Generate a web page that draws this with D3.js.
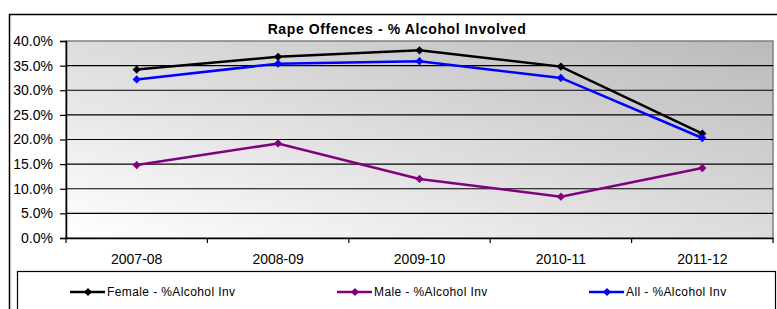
<!DOCTYPE html>
<html>
<head>
<meta charset="utf-8">
<script src="https://cdn.jsdelivr.net/npm/d3@7"></script>
<style>
  body { margin: 0; background: #fff; }
  svg { display: block; font-family: Arial, "Liberation Sans", sans-serif; }
</style>
</head>
<body>
<svg width="777" height="309"></svg>
<script>
// Datos
const years = ["2007-08", "2008-09", "2009-10", "2010-11", "2011-12"];
const female = [0.342, 0.368, 0.381, 0.348, 0.212];
const male = [0.148, 0.192, 0.120, 0.084, 0.142];
const all = [0.322, 0.354, 0.359, 0.325, 0.203];
const yTicks = [0, 0.05, 0.10, 0.15, 0.20, 0.25, 0.30, 0.35, 0.40];

const series = [
  { name: "Female - %Alcohol Inv", values: female, color: "#000000", lx: 70 },
  { name: "Male - %Alcohol Inv", values: male, color: "#800080", lx: 337 },
  { name: "All - %Alcohol Inv", values: all, color: "#0000ff", lx: 589 }
];

const svg = d3.select("svg");
const plot = { left: 66, top: 41, right: 773, bottom: 238 };

// Borde exterior del gráfico
svg.append("path")
  .attr("d", "M9.5,309 V14.5 H777")
  .attr("fill", "none").attr("stroke", "#000").attr("stroke-width", 1.5);

// Degradado del fondo
const grad = svg.append("defs").append("linearGradient")
  .attr("id", "bg").attr("x1", "0%").attr("y1", "100%").attr("x2", "100%").attr("y2", "0%");
grad.append("stop").attr("offset", "0%").attr("stop-color", "#ffffff");
grad.append("stop").attr("offset", "100%").attr("stop-color", "#bababa");

const x = d3.scaleBand().domain(years).range([plot.left, plot.right]);
const y = d3.scaleLinear().domain([0, 0.4]).range([plot.bottom, plot.top]);

svg.append("rect")
  .attr("x", plot.left).attr("y", plot.top)
  .attr("width", plot.right - plot.left).attr("height", plot.bottom - plot.top)
  .attr("fill", "url(#bg)").attr("stroke", "#808080").attr("stroke-width", 1.5);

// Líneas de cuadrícula
svg.append("g").selectAll("line").data(yTicks.slice(1, -1)).enter().append("line")
  .attr("x1", plot.left).attr("x2", plot.right)
  .attr("y1", d => y(d)).attr("y2", d => y(d))
  .attr("stroke", "#000").attr("stroke-width", 1.2);

// Eje Y
const yAxis = svg.append("g").attr("transform", `translate(${plot.left},0)`)
  .call(d3.axisLeft(y).tickValues(yTicks).tickFormat(d3.format(".1%")).tickSize(6).tickPadding(7));
yAxis.select(".domain").attr("stroke-width", 1.5);
yAxis.selectAll(".tick line").attr("stroke-width", 1.2);
yAxis.selectAll("text").attr("font-size", 14).attr("fill", "#000")
  .attr("font-family", "Arial, 'Liberation Sans', sans-serif");

// Eje X
const xAxis = svg.append("g").attr("transform", `translate(0,${plot.bottom})`)
  .call(d3.axisBottom(x).tickSize(0).tickPadding(16));
xAxis.select(".domain").attr("stroke-width", 1.5);
xAxis.selectAll("text").attr("font-size", 14).attr("fill", "#000")
  .attr("font-family", "Arial, 'Liberation Sans', sans-serif");
// Marcas entre categorías
svg.append("g").selectAll("line").data(years).enter().append("line")
  .attr("x1", d => x(d) + x.bandwidth())
  .attr("x2", d => x(d) + x.bandwidth())
  .attr("y1", plot.bottom).attr("y2", plot.bottom + 5)
  .attr("stroke", "#000").attr("stroke-width", 1.2);
svg.append("line").attr("x1", plot.left).attr("x2", plot.left)
  .attr("y1", plot.bottom).attr("y2", plot.bottom + 5)
  .attr("stroke", "#000").attr("stroke-width", 1.2);

// Título
svg.append("text").attr("x", 397).attr("y", 34).attr("text-anchor", "middle")
  .attr("font-size", 14).attr("font-weight", "bold").attr("letter-spacing", 0.6)
  .text("Rape Offences - % Alcohol Involved");

const cx = d => x(d) + x.bandwidth() / 2;
const line = d3.line().x((d, i) => cx(years[i])).y(d => y(d));
// Rombo: cuadrado girado 45 grados
const diamond = d3.symbol().type(d3.symbolSquare).size(34);

series.forEach(s => {
  svg.append("path").attr("d", line(s.values))
    .attr("fill", "none").attr("stroke", s.color).attr("stroke-width", 2.5);
  svg.append("g").selectAll("path").data(s.values).enter().append("path")
    .attr("d", diamond)
    .attr("transform", (d, i) => `translate(${cx(years[i])},${y(d)}) rotate(45)`)
    .attr("fill", s.color);
});

// Leyenda
svg.append("rect").attr("x", 17.5).attr("y", 271.5).attr("width", 758).attr("height", 50)
  .attr("fill", "#fff").attr("stroke", "#000").attr("stroke-width", 1.2);
const leg = svg.append("g").selectAll("g").data(series).enter().append("g")
  .attr("transform", d => `translate(${d.lx},292)`);
leg.append("line").attr("x1", 0).attr("x2", 35).attr("stroke", d => d.color).attr("stroke-width", 2.5);
leg.append("path").attr("d", diamond).attr("transform", "translate(18,0) rotate(45)").attr("fill", d => d.color);
leg.append("text").attr("x", 37).attr("y", 4).attr("font-size", 12).attr("letter-spacing", 0.4)
  .text(d => d.name);
</script>
</body>
</html>
